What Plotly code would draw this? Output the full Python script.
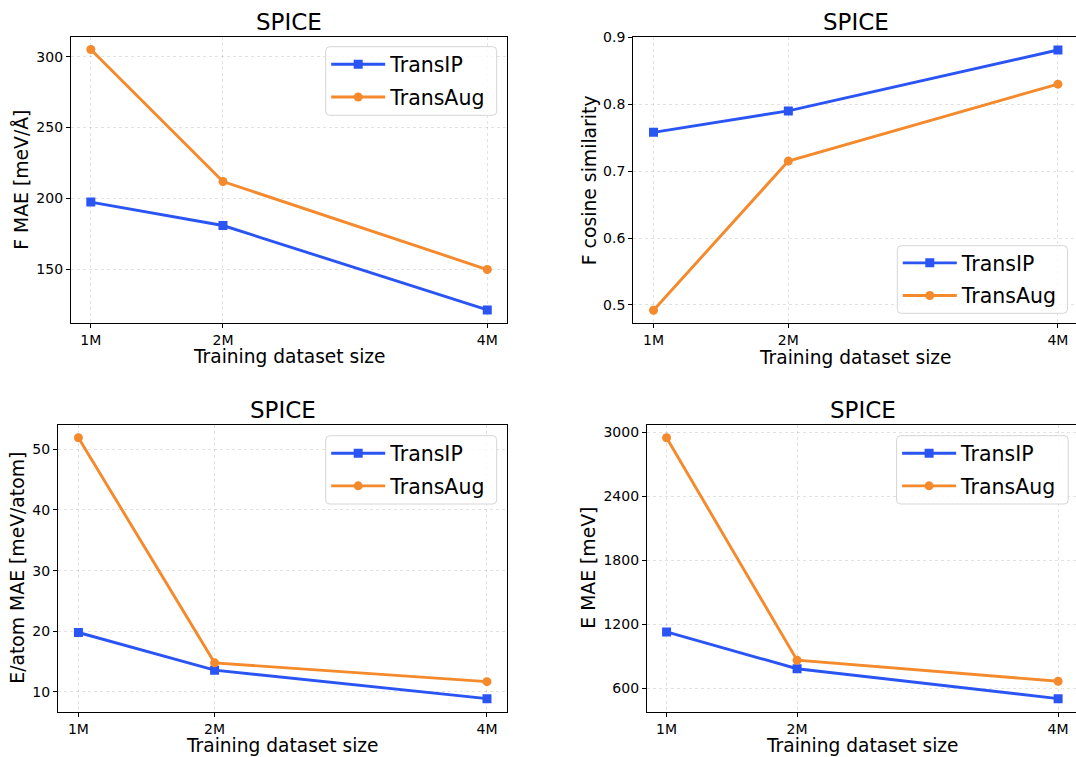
import plotly.graph_objects as go

# Training-set sizes (in millions) and their tick labels
sizes = [1, 2, 4]
size_labels = ["1M", "2M", "4M"]

# Force MAE [meV/Å]
f_mae_transip = [197.5, 181.0, 121.5]
f_mae_transaug = [305.0, 212.0, 150.0]

# Force cosine similarity
f_cos_transip = [0.758, 0.790, 0.881]
f_cos_transaug = [0.492, 0.715, 0.830]

# Energy-per-atom MAE [meV/atom]
e_atom_transip = [19.8, 13.6, 8.9]
e_atom_transaug = [51.9, 14.8, 11.7]

# Total-energy MAE [meV]
e_mae_transip = [1130, 785, 505]
e_mae_transaug = [2948, 865, 668]

BLUE = "#2a55f3"
ORANGE = "#f48a2c"
FONT = "DejaVu Sans"
W, H = 1076, 757


def fx(px):
    return px / W


def fy(px):
    return 1 - px / H


def padded(vals):
    lo, hi = min(vals), max(vals)
    pad = (hi - lo) * 0.05
    return [lo - pad, hi + pad]


def rounded_box(x0, y0, x1, y1, r=4):
    """SVG path (paper coords) for a rounded rectangle given in pixels."""
    pts = [
        f"M{fx(x0 + r)},{fy(y0)}",
        f"L{fx(x1 - r)},{fy(y0)}",
        f"Q{fx(x1)},{fy(y0)} {fx(x1)},{fy(y0 + r)}",
        f"L{fx(x1)},{fy(y1 - r)}",
        f"Q{fx(x1)},{fy(y1)} {fx(x1 - r)},{fy(y1)}",
        f"L{fx(x0 + r)},{fy(y1)}",
        f"Q{fx(x0)},{fy(y1)} {fx(x0)},{fy(y1 - r)}",
        f"L{fx(x0)},{fy(y0 + r)}",
        f"Q{fx(x0)},{fy(y0)} {fx(x0 + r)},{fy(y0)}",
        "Z",
    ]
    return " ".join(pts)


panels = [
    dict(x=(71, 507.1), y=(36.5, 323), xr=[0.85, 4.15],
         ip=f_mae_transip, aug=f_mae_transaug,
         yticks=[150, 200, 250, 300], ylabel="F MAE [meV/Å]",
         ylab_x=21, mirror=True, legbox=(325.7, 46.7, 496.7, 115.3)),
    dict(x=(633.3, 1076), y=(37, 323.3), xr=[0.85, 4.134],
         ip=f_cos_transip, aug=f_cos_transaug,
         yticks=[0.5, 0.6, 0.7, 0.8, 0.9], ylabel="F cosine similarity",
         ylab_x=589, mirror=False, legbox=(897.3, 245.7, 1067.5, 313.3)),
    dict(x=(58, 507.4), y=(424.7, 711.7), xr=[0.85, 4.15],
         ip=e_atom_transip, aug=e_atom_transaug,
         yticks=[10, 20, 30, 40, 50], ylabel="E/atom MAE [meV/atom]",
         ylab_x=17.5, mirror=True, legbox=(325.7, 435.7, 496.7, 504)),
    dict(x=(647, 1076), y=(424.7, 711.7), xr=[0.85, 4.137],
         ip=e_mae_transip, aug=e_mae_transaug,
         yticks=[600, 1200, 1800, 2400, 3000], ylabel="E MAE [meV]",
         ylab_x=588.5, mirror=False, legbox=(896.6, 435.7, 1068.2, 504)),
]

fig = go.Figure()
layout = dict(
    width=W, height=H,
    margin=dict(l=0, r=0, t=0, b=0, autoexpand=False),
    paper_bgcolor="white", plot_bgcolor="white",
    font=dict(family=FONT, color="black"),
    annotations=[], shapes=[],
)

for i, p in enumerate(panels, start=1):
    sfx = "" if i == 1 else str(i)
    leg = "legend" if i == 1 else f"legend{i}"
    common = dict(xaxis=f"x{sfx}", yaxis=f"y{sfx}", legend=leg, mode="lines+markers")
    fig.add_trace(go.Scatter(
        x=sizes, y=p["ip"], name="TransIP", legendgroup=f"ip{i}",
        line=dict(color=BLUE, width=2.9),
        marker=dict(symbol="square", size=9, color=BLUE), **common))
    fig.add_trace(go.Scatter(
        x=sizes, y=p["aug"], name="TransAug", legendgroup=f"aug{i}",
        line=dict(color=ORANGE, width=2.9),
        marker=dict(symbol="circle", size=9, color=ORANGE), **common))

    axis_style = dict(
        automargin=False,
        showline=True, linecolor="black", linewidth=1.3,
        ticks="outside", ticklen=4, tickwidth=1, tickcolor="black",
        tickfont=dict(family=FONT, size=14, color="black"),
        showgrid=True, gridcolor="rgba(0,0,0,0.11)", griddash="3px,3px", gridwidth=0.8,
        zeroline=False,
    )
    layout[f"xaxis{sfx}"] = dict(
        domain=[fx(p["x"][0]), fx(p["x"][1])], anchor=f"y{sfx}",
        range=p["xr"], tickvals=sizes, ticktext=size_labels,
        mirror=True, **axis_style)
    layout[f"yaxis{sfx}"] = dict(
        domain=[fy(p["y"][1]), fy(p["y"][0])], anchor=f"x{sfx}",
        range=padded(p["ip"] + p["aug"]), tickvals=p["yticks"],
        mirror=p["mirror"], **axis_style)

    # legend frame: semi-transparent rounded box over the data
    bx0, by0, bx1, by1 = p["legbox"]
    layout["shapes"].append(dict(
        type="path", path=rounded_box(bx0, by0, bx1, by1), xref="paper", yref="paper",
        fillcolor="rgba(255,255,255,0.8)", line=dict(color="#d6d6d6", width=1),
        layer="above"))
    layout[leg] = dict(
        x=fx(bx0 + 0.5), y=fy((by0 + by1) / 2), xanchor="left", yanchor="middle",
        xref="paper", yref="paper",
        bgcolor="rgba(0,0,0,0)", borderwidth=0,
        font=dict(family=FONT, size=20.5, color="black"),
        tracegroupgap=3, itemwidth=54,
    )

    xc = fx((p["x"][0] + p["x"][1]) / 2)
    if i == 2 or i == 4:
        xc = fx(p["x"][0] + (1078.5 - p["x"][0]) / 2)
    top_px = p["y"][0]
    bot_px = p["y"][1]
    layout["annotations"] += [
        dict(text="SPICE", x=xc, y=fy(top_px - 14.5), xref="paper", yref="paper",
             xanchor="center", yanchor="middle", showarrow=False,
             font=dict(family=FONT, size=23, color="black")),
        dict(text="Training dataset size", x=xc, y=fy(bot_px + 34), xref="paper",
             yref="paper", xanchor="center", yanchor="middle", showarrow=False,
             font=dict(family=FONT, size=18.6, color="black")),
        dict(text=p["ylabel"], x=fx(p["ylab_x"]), y=fy((top_px + bot_px) / 2),
             xref="paper", yref="paper", xanchor="center", yanchor="middle",
             textangle=-90, showarrow=False,
             font=dict(family=FONT, size=18.8, color="black")),
    ]

fig.update_layout(**layout)
fig.write_html("out.html")
